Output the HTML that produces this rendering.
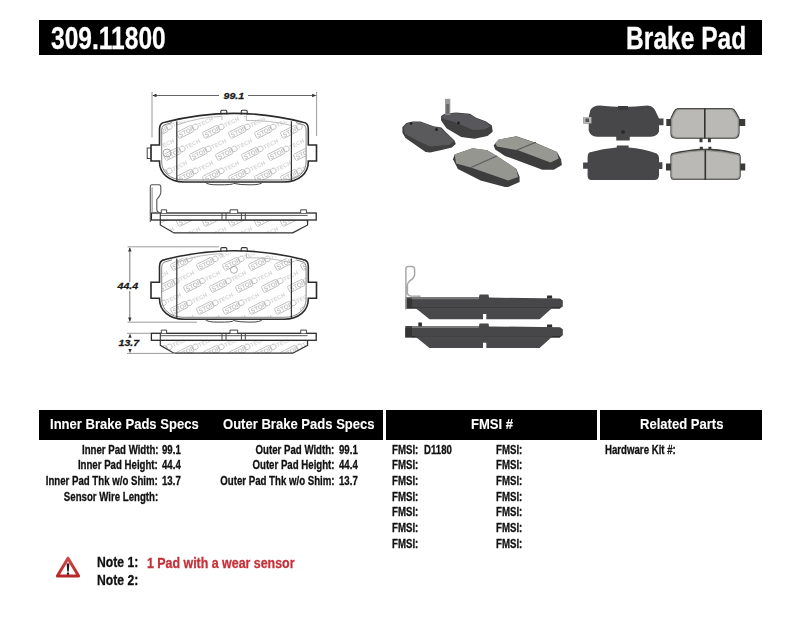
<!DOCTYPE html>
<html><head><meta charset="utf-8">
<style>
*{margin:0;padding:0;box-sizing:border-box}
html,body{width:800px;height:619px;background:#fff;overflow:hidden}
body{position:relative;font-family:"Liberation Sans",sans-serif;font-weight:bold;color:#111;-webkit-text-stroke-width:.3px}
.bar{position:absolute;background:#000}
.t{position:absolute;white-space:nowrap;line-height:1;transform-origin:0 0}
.r{position:absolute;white-space:nowrap;line-height:1;transform-origin:100% 0}
.c{position:absolute;white-space:nowrap;line-height:1;transform-origin:50% 0;text-align:center}
.w{color:#fff}
.hd{font-size:30.5px;transform:scaleX(.805)}
.th{font-size:15px;transform:scaleX(.87);-webkit-text-stroke-width:.1px}
.sp{font-size:12.3px;transform:scaleX(.785)}
.nt{font-size:14.5px;transform:scaleX(.84)}
svg{position:absolute;left:0;top:0;-webkit-text-stroke-width:0}
</style></head><body>
<div class="bar" style="left:39px;top:20px;width:723px;height:35px"></div>
<div class="t w hd" style="left:51.2px;top:22.9px">309.11800</div>
<div class="r w hd" style="right:53.9px;top:22.9px">Brake Pad</div>

<div class="bar" style="left:39px;top:410px;width:344px;height:30px"></div>
<div class="bar" style="left:386px;top:410px;width:211px;height:30px"></div>
<div class="bar" style="left:600px;top:410px;width:162px;height:30px"></div>
<div class="t w th" style="left:50px;top:416.2px">Inner Brake Pads Specs</div>
<div class="t w th" style="left:222.5px;top:416.2px">Outer Brake Pads Specs</div>
<div class="t w th" style="left:471px;top:416.2px">FMSI #</div>
<div class="t w th" style="left:640px;top:416.2px">Related Parts</div>

<div class="r sp" style="right:641.8px;top:443.7px">Inner Pad Width:</div>
<div class="r sp" style="right:641.8px;top:459.35px">Inner Pad Height:</div>
<div class="r sp" style="right:641.8px;top:475.0px">Inner Pad Thk w/o Shim:</div>
<div class="r sp" style="right:641.8px;top:490.65px">Sensor Wire Length:</div>
<div class="t sp" style="left:161.6px;top:443.7px">99.1</div>
<div class="t sp" style="left:161.6px;top:459.35px">44.4</div>
<div class="t sp" style="left:161.6px;top:475.0px">13.7</div>

<div class="r sp" style="right:465.8px;top:443.7px">Outer Pad Width:</div>
<div class="r sp" style="right:465.8px;top:459.35px">Outer Pad Height:</div>
<div class="r sp" style="right:465.8px;top:475.0px">Outer Pad Thk w/o Shim:</div>
<div class="t sp" style="left:338.6px;top:443.7px">99.1</div>
<div class="t sp" style="left:338.6px;top:459.35px">44.4</div>
<div class="t sp" style="left:338.6px;top:475.0px">13.7</div>

<div class="t sp" style="left:392px;top:443.7px">FMSI:</div>
<div class="t sp" style="left:424px;top:443.7px">D1180</div>
<div class="t sp" style="left:392px;top:459.35px">FMSI:</div>
<div class="t sp" style="left:392px;top:475.0px">FMSI:</div>
<div class="t sp" style="left:392px;top:490.65px">FMSI:</div>
<div class="t sp" style="left:392px;top:506.3px">FMSI:</div>
<div class="t sp" style="left:392px;top:521.95px">FMSI:</div>
<div class="t sp" style="left:392px;top:537.6px">FMSI:</div>
<div class="t sp" style="left:496.2px;top:443.7px">FMSI:</div>
<div class="t sp" style="left:496.2px;top:459.35px">FMSI:</div>
<div class="t sp" style="left:496.2px;top:475.0px">FMSI:</div>
<div class="t sp" style="left:496.2px;top:490.65px">FMSI:</div>
<div class="t sp" style="left:496.2px;top:506.3px">FMSI:</div>
<div class="t sp" style="left:496.2px;top:521.95px">FMSI:</div>
<div class="t sp" style="left:496.2px;top:537.6px">FMSI:</div>

<div class="t sp" style="left:605px;top:443.7px">Hardware Kit #:</div>

<div class="t nt" style="left:96.8px;top:554.9px">Note 1:</div>
<div class="t nt" style="left:96.8px;top:572.8px">Note 2:</div>
<div class="t nt" style="left:146.5px;top:555.5px;color:#c63038;transform:scaleX(.855)">1 Pad with a wear sensor</div>

<svg width="800" height="619" viewBox="0 0 800 619">
  <defs><linearGradient id="tg" x1="0" y1="0" x2="0" y2="1"><stop offset="0" stop-color="#f2b9b9"/><stop offset=".55" stop-color="#fff"/><stop offset="1" stop-color="#fff"/></linearGradient>
  <linearGradient id="ts" x1="0" y1="0" x2="0" y2="1"><stop offset="0" stop-color="#d04848"/><stop offset="1" stop-color="#b82828"/></linearGradient></defs>
  <path d="M68 558.2 L78.6 576 L57.4 576 Z" fill="url(#tg)" stroke="url(#ts)" stroke-width="3" stroke-linejoin="round"/>
  <path d="M66.7 563.5 L69.3 563.5 L68.8 571.5 L67.2 571.5 Z" fill="#1a1a1a"/>
  <rect x="66.9" y="572.4" width="2.2" height="2.4" rx=".6" fill="#1a1a1a"/>
</svg>
<svg width="800" height="619" viewBox="0 0 800 619" style="position:absolute;left:0;top:0">
<defs>
<pattern id="wm" patternUnits="userSpaceOnUse" width="26" height="44" x="-3" y="3">
 <g id="lg0"><g id="lg" fill="none" stroke="#bdbdbd" stroke-width=".85" transform="rotate(-26.6)">
  <rect x="-1.5" y="-3.4" width="17" height="6.8" rx="1.2"/>
  <text x="0" y="2.4" font-family="Liberation Sans" font-weight="bold" font-size="6.2" fill="#c6c6c6" stroke="none">STOP</text>
  <circle cx="18.3" cy="0" r="2.8"/>
  <text x="21.8" y="2.3" font-family="Liberation Sans" font-size="5.8" fill="#d4d4d4" stroke="none">TECH</text>
 </g></g>
<use href="#lg" x="-52" y="-44"/><use href="#lg" x="-39" y="-22"/><use href="#lg" x="-52" y="0"/><use href="#lg" x="-39" y="22"/><use href="#lg" x="-52" y="44"/><use href="#lg" x="-39" y="66"/><use href="#lg" x="-26" y="-44"/><use href="#lg" x="-13" y="-22"/><use href="#lg" x="-26" y="0"/><use href="#lg" x="-13" y="22"/><use href="#lg" x="-26" y="44"/><use href="#lg" x="-13" y="66"/><use href="#lg" x="0" y="-44"/><use href="#lg" x="13" y="-22"/><use href="#lg" x="13" y="22"/><use href="#lg" x="0" y="44"/><use href="#lg" x="13" y="66"/><use href="#lg" x="26" y="-44"/><use href="#lg" x="39" y="-22"/><use href="#lg" x="26" y="0"/><use href="#lg" x="39" y="22"/><use href="#lg" x="26" y="44"/><use href="#lg" x="39" y="66"/><use href="#lg" x="52" y="-44"/><use href="#lg" x="65" y="-22"/><use href="#lg" x="52" y="0"/><use href="#lg" x="65" y="22"/><use href="#lg" x="52" y="44"/><use href="#lg" x="65" y="66"/>
</pattern>
<pattern id="wm2" href="#wm" x="-9" y="3"/>
</defs>
<path d="M161.7 130.0 Q161.7 125.0 166.0 124.4 Q234.0 107.0 302.0 124.4 Q306.1 125.0 306.1 130.0 L306.1 162.0 C306.1 172.0 298.0 180.0 284.0 180.0 L184.0 180.0 C170.0 180.0 161.7 172.0 161.7 162.0 Z" fill="url(#wm)" stroke="none"/>
<path d="M159.5 129.0 Q159.5 123.0 165.0 122.3 Q234.0 104.5 303.0 122.3 Q308.3 123.0 308.3 129.0 L308.3 145.0 L316.5 145.0 L316.5 161.0 L308.3 161.0 L308.3 162.0 C308.3 173.0 299.0 182.0 284.0 182.0 L184.0 182.0 C169.0 182.0 159.5 173.0 159.5 162.0 L159.5 161.0 L151.0 161.0 L151.0 145.0 L159.5 145.0 Z" fill="none" stroke="#2a2a2a" stroke-width="1.6"/>
<path d="M172.0 122.6 L166.0 124.4 Q161.7 125.0 161.7 130.0 L161.7 162.0 C161.7 172.0 170.0 180.0 184.0 180.0 L284.0 180.0 C298.0 180.0 306.1 172.0 306.1 162.0 L306.1 130.0 Q306.1 125.0 302.0 124.4 L296.0 122.6" fill="none" stroke="#777" stroke-width="0.9"/>
<path d="M220.8 114.5 L220.8 111.5 Q220.8 110.3 222.0 110.3 L225.6 110.3 Q226.8 110.3 226.8 111.5 L226.8 114.5" fill="none" stroke="#333" stroke-width="1.1"/>
<path d="M241.2 114.5 L241.2 111.5 Q241.2 110.3 242.4 110.3 L246.0 110.3 Q247.2 110.3 247.2 111.5 L247.2 114.5" fill="none" stroke="#333" stroke-width="1.1"/>
<path d="M176.8 125.0 Q197.0 117.5 222.0 116.3 L222.0 120.0 M246.4 115.5 L246.4 120.5 Q270.0 120.0 291.4 125.5" fill="none" stroke="#b5b5b5" stroke-width=".9"/>
<path d="M205.0 182.0 Q207.0 185.0 218.0 184.8 Q233.0 185.0 233.5 183.3 Q240.0 185.0 250.0 184.8 Q261.0 185.0 262.5 182.0" fill="none" stroke="#444" stroke-width="1"/>
<path d="M176.8 121.3 L176.8 181.0 M291.4 121.3 L291.4 181.0" stroke="#333" stroke-width="1.2"/>
<rect x="147.2" y="148.0" width="3.8" height="10.5" fill="none" stroke="#444" stroke-width="1"/>
<circle cx="167" cy="153.0" r="4" fill="none" stroke="#aaa" stroke-width="1"/>
<path d="M160.3 220.0 L160.3 225.0 L174.0 232.9 L292.8 232.9 L307.6 225.0 L307.6 220.0 Z" fill="url(#wm)" stroke="#333" stroke-width="1.2"/>
<rect x="151.4" y="213.0" width="164.8" height="7" fill="#fff" stroke="#2a2a2a" stroke-width="1.3"/>
<path d="M160.3 215.4 L307.6 215.4" stroke="#555" stroke-width="1"/>
<path d="M160.3 213.0 L160.3 220.0" stroke="#333" stroke-width="1.1"/>
<path d="M222.0 213.0 L222.0 220.0" stroke="#444" stroke-width="1"/>
<path d="M226.0 213.0 L226.0 220.0" stroke="#444" stroke-width="1"/>
<path d="M241.4 213.0 L241.4 220.0" stroke="#444" stroke-width="1"/>
<path d="M245.3 213.0 L245.3 220.0" stroke="#444" stroke-width="1"/>
<path d="M161.3 213.0 L161.3 209.8 L166.6 209.8 L166.6 213.0" fill="#fff" stroke="#444" stroke-width="1"/>
<path d="M230.0 213.0 L230.0 209.8 L237.7 209.8 L237.7 213.0" fill="#fff" stroke="#444" stroke-width="1"/>
<path d="M300.7 213.0 L300.7 209.8 L306.4 209.8 L306.4 213.0" fill="#fff" stroke="#444" stroke-width="1"/>
<path d="M150.3 222.0 L150.3 186.5 Q150.3 184.7 152 184.7 L159 184.7 Q160.8 184.7 160.8 187.0 L160.8 192.5 Q160.8 195.0 156.8 199.5 L156.8 209.0 Q156.8 212.0 159 212.5" fill="none" stroke="#555" stroke-width="1.1"/>
<path d="M152.1 213.0 L152.1 187.5" fill="none" stroke="#777" stroke-width=".9"/>
<path d="M161.7 267.3 Q161.7 262.3 166.0 261.7 Q234.0 244.3 302.0 261.7 Q306.1 262.3 306.1 267.3 L306.1 299.3 C306.1 309.3 298.0 317.3 284.0 317.3 L184.0 317.3 C170.0 317.3 161.7 309.3 161.7 299.3 Z" fill="url(#wm2)" stroke="none"/>
<path d="M159.5 266.3 Q159.5 260.3 165.0 259.6 Q234.0 241.8 303.0 259.6 Q308.3 260.3 308.3 266.3 L308.3 282.3 L316.5 282.3 L316.5 298.3 L308.3 298.3 L308.3 299.3 C308.3 310.3 299.0 319.3 284.0 319.3 L184.0 319.3 C169.0 319.3 159.5 310.3 159.5 299.3 L159.5 298.3 L151.0 298.3 L151.0 282.3 L159.5 282.3 Z" fill="none" stroke="#2a2a2a" stroke-width="1.6"/>
<path d="M172.0 259.9 L166.0 261.7 Q161.7 262.3 161.7 267.3 L161.7 299.3 C161.7 309.3 170.0 317.3 184.0 317.3 L284.0 317.3 C298.0 317.3 306.1 309.3 306.1 299.3 L306.1 267.3 Q306.1 262.3 302.0 261.7 L296.0 259.9" fill="none" stroke="#777" stroke-width="0.9"/>
<path d="M220.8 251.8 L220.8 248.8 Q220.8 247.6 222.0 247.6 L225.6 247.6 Q226.8 247.6 226.8 248.8 L226.8 251.8" fill="none" stroke="#333" stroke-width="1.1"/>
<path d="M241.2 251.8 L241.2 248.8 Q241.2 247.6 242.4 247.6 L246.0 247.6 Q247.2 247.6 247.2 248.8 L247.2 251.8" fill="none" stroke="#333" stroke-width="1.1"/>
<path d="M176.8 262.3 Q197.0 254.8 222.0 253.6 L222.0 257.3 M246.4 252.8 L246.4 257.8 Q270.0 257.3 291.4 262.8" fill="none" stroke="#b5b5b5" stroke-width=".9"/>
<path d="M205.0 319.3 Q207.0 322.3 218.0 322.1 Q233.0 322.3 233.5 320.6 Q240.0 322.3 250.0 322.1 Q261.0 322.3 262.5 319.3" fill="none" stroke="#444" stroke-width="1"/>
<path d="M176.8 258.6 L176.8 318.3 M291.4 258.6 L291.4 318.3" stroke="#333" stroke-width="1.2"/>
<circle cx="233.9" cy="269.8" r="3.5" fill="none" stroke="#aaa" stroke-width="1"/>
<path d="M160.3 340.3 L160.3 345.3 L174.0 353.2 L292.8 353.2 L307.6 345.3 L307.6 340.3 Z" fill="url(#wm)" stroke="#333" stroke-width="1.2"/>
<rect x="151.4" y="333.3" width="164.8" height="7" fill="#fff" stroke="#2a2a2a" stroke-width="1.3"/>
<path d="M160.3 335.7 L307.6 335.7" stroke="#555" stroke-width="1"/>
<path d="M160.3 333.3 L160.3 340.3" stroke="#333" stroke-width="1.1"/>
<path d="M222.0 333.3 L222.0 340.3" stroke="#444" stroke-width="1"/>
<path d="M226.0 333.3 L226.0 340.3" stroke="#444" stroke-width="1"/>
<path d="M241.4 333.3 L241.4 340.3" stroke="#444" stroke-width="1"/>
<path d="M245.3 333.3 L245.3 340.3" stroke="#444" stroke-width="1"/>
<path d="M161.3 333.3 L161.3 330.1 L166.6 330.1 L166.6 333.3" fill="#fff" stroke="#444" stroke-width="1"/>
<path d="M230.0 333.3 L230.0 330.1 L237.7 330.1 L237.7 333.3" fill="#fff" stroke="#444" stroke-width="1"/>
<path d="M300.7 333.3 L300.7 330.1 L306.4 330.1 L306.4 333.3" fill="#fff" stroke="#444" stroke-width="1"/>
<path d="M152 92 L152 137.5 M316.6 92 L316.6 136" stroke="#9a9a9a" stroke-width="1"/>
<path d="M153 95.5 L219 95.5 M248 95.5 L315.6 95.5" stroke="#666" stroke-width="1"/>
<path d="M152.3 95.5 L156.5 93.8 L156.5 97.2 Z" fill="#333"/>
<path d="M316.3 95.5 L312.1 93.8 L312.1 97.2 Z" fill="#333"/>
<path d="M127.5 246.8 L219 246.8 M127.5 322.2 L197 322.2" stroke="#9a9a9a" stroke-width="1"/>
<path d="M129.8 248 L129.8 282 M129.8 291 L129.8 321" stroke="#777" stroke-width="1"/>
<path d="M129.8 247.2 L128.1 251.4 L131.5 251.4 Z" fill="#333"/>
<path d="M129.8 321.8 L128.1 317.6 L131.5 317.6 Z" fill="#333"/>
<path d="M127 333.3 L151 333.3 M127 353.4 L175 353.4" stroke="#9a9a9a" stroke-width="1"/>
<path d="M130.0 333.6 L128.3 337.8 L131.7 337.8 Z" fill="#333"/>
<path d="M130.0 353.1 L128.3 348.9 L131.7 348.9 Z" fill="#333"/>
<text x="223.5" y="98.8" font-family="Liberation Sans" font-weight="bold" font-style="italic" font-size="9.2" fill="#1a1a1a" stroke="#1a1a1a" stroke-width=".25" transform="translate(223.5 0) scale(1.16 1) translate(-223.5 0)">99.1</text>
<text x="117.5" y="288.9" font-family="Liberation Sans" font-weight="bold" font-style="italic" font-size="9.2" fill="#1a1a1a" stroke="#1a1a1a" stroke-width=".25" transform="translate(117.5 0) scale(1.16 1) translate(-117.5 0)">44.4</text>
<text x="118.5" y="346.2" font-family="Liberation Sans" font-weight="bold" font-style="italic" font-size="9.2" fill="#1a1a1a" stroke="#1a1a1a" stroke-width=".25" transform="translate(118.5 0) scale(1.16 1) translate(-118.5 0)">13.7</text>
</svg>
<svg width="800" height="619" viewBox="0 0 800 619" style="position:absolute;left:0;top:0">
<defs><filter id="bl" x="-5%" y="-5%" width="110%" height="110%"><feGaussianBlur stdDeviation="0.45"/></filter></defs>
<g filter="url(#bl)">
<path d="M402.4 127.1 L406.4 123.1 L412.5 121.4 L420.4 121.4 L433.5 126.2 L441.4 127.5 L445.7 131.9 L454.5 140.6 L455.8 144.1 L451.9 147.6 L440.5 150.2 L430.0 152.4 L425.6 152.0 L405.5 138.0 L402.4 132.7 Z" fill="#3f3f41" />
<path d="M403.5 127.0 L407.0 123.6 L412.5 122.0 L420.4 122.0 L433.5 126.8 L441.0 128.2 L445.0 132.3 L454.0 140.8 L449.0 145.0 L430.0 146.5 L418.0 141.0 L405.0 134.0 Z" fill="#5a5a5c" />
<circle cx="411" cy="123.5" r="1.3" fill="#1e1e1e"/><circle cx="436.5" cy="129.5" r="1.5" fill="#222"/>
<path d="M441.1 116.0 L444.6 113.8 L456.0 112.5 L470.0 113.8 L476.1 117.7 L485.7 121.2 L491.9 125.6 L492.7 131.7 L487.5 136.1 L474.4 138.7 L461.2 137.0 L446.4 128.2 L441.1 120.4 Z" fill="#3f3f41" />
<path d="M442.0 116.5 L445.0 114.4 L456.0 113.2 L470.0 114.4 L476.0 118.3 L485.5 122.0 L490.5 126.3 L484.0 129.5 L473.0 130.0 L461.0 124.8 L452.5 121.3 L443.5 119.0 Z" fill="#59595b" />
<circle cx="458.5" cy="123" r="1.4" fill="#222"/>
<rect x="445" y="98.8" width="5.3" height="16" fill="#9a9a9a"/><rect x="446.2" y="104" width="3" height="10" fill="#6a6a6a"/>
<path d="M453.0 159.2 L454.6 154.4 L472.5 148.2 L487.1 150.3 L496.9 156.0 L516.4 169.0 L519.6 177.1 L519.6 182.0 L508.2 186.9 L505.0 186.9 L480.6 180.4 L457.9 169.0 Z" fill="#3e3e3e" />
<path d="M454.6 154.4 L472.5 148.2 L487.1 150.3 L496.9 156.0 L516.4 169.0 L518.0 177.1 L508.2 180.4 L470.9 167.4 L456.2 163.5 Z" fill="#969690" />
<path d="M470.9 167.4 L496.9 156" stroke="#5a5a5a" stroke-width="1.1"/>
<path d="M493.6 145.4 L498.5 139.8 L516.4 136.2 L534.2 142.2 L557.0 152.0 L561.0 159.2 L561.9 165.0 L553.8 169.8 L542.4 169.8 L505.0 156.0 L495.2 149.5 Z" fill="#3e3e3e" />
<path d="M495.2 143.0 L498.5 139.5 L516.4 136.5 L534.2 142.5 L557.0 152.0 L558.6 158.4 L550.5 162.5 L518.0 150.3 L497.0 146.5 Z" fill="#989892" />
<path d="M516.4 150.3 L535.9 142.2" stroke="#5a5a5a" stroke-width="1.1"/>
<path d="M599.4 105.6 Q623 108.5 647.75 105.6 Q652.5 106 655 110 L659 118.6 L663.5 118.6 L663.5 125.3 L659 125.3 L659 131.5 Q657 136.5 651 136.8 L629.75 136.8 L629.75 140.5 L616.25 140.5 L616.25 136.8 L597.1 136.8 Q590 136 588.7 130.4 L588.7 123.6 L583.4 123.6 L583.4 116.9 L588.7 116.9 L590.4 110.1 Q593 105.8 599.4 105.6 Z" fill="#464648"/>
<rect x="583.4" y="117" width="8" height="6.5" fill="#b8b8b8"/><rect x="585.5" y="118.5" width="3.5" height="3.5" fill="#555"/>
<circle cx="623" cy="132" r="2" fill="#2a2a2a"/><rect x="618" y="106" width="10" height="4" fill="#3a3a3a"/>
<path d="M589.25 152.4 Q603 148.5 616.8 147.5 L616.8 145.6 L628.6 145.6 L628.6 147.5 Q643 148.5 656.75 153.5 Q659 155 659 158 L659 162.3 L662.4 162.3 L662.4 169 L659 169 L659 175.5 Q658.5 180 654.5 180 L591.5 180 Q587.6 180 587.6 175.5 L587.6 168.7 L583.1 168.7 L583.1 162.5 L587.6 162.5 L587.6 157 Q587.6 153.5 589.25 152.4 Z" fill="#464648"/>
<path d="M678 107.9 L731.5 107.9 Q734.5 108.3 736 111.5 L739.6 118 L739.6 119.1 L745.25 119.1 L745.25 125.9 L739.6 125.9 L739.6 133 Q739.3 138.8 734 138.8 L710.9 138.8 L710.9 142.3 L707.9 142.3 L707.9 138.8 L702.5 138.8 L702.5 142.3 L699.5 142.3 L699.5 138.8 L676 138.8 Q670.4 138.5 670.4 133.75 L670.4 125.9 L666.3 125.9 L666.3 119.1 L670.4 119.1 L670.4 118 L673.5 111.5 Q675 108.3 678 107.9 Z" fill="#3a3a3a"/>
<path d="M678.5 109.3 L731 109.3 Q733.3 109.7 734.6 112.2 L738.3 119 L738.3 132.8 Q738 137.5 733.5 137.5 L676.5 137.5 Q671.7 137.3 671.7 133 L671.7 119 L675 112.2 Q676.2 109.5 678.5 109.3 Z" fill="#bab9b5" stroke="#8f8e8a" stroke-width="1.2"/>
<rect x="704" y="108.5" width="1.6" height="30" fill="#333"/>
<path d="M672.1 152.9 Q688 149.5 699.8 148.8 L699.8 146.8 L702.8 146.8 L702.8 148.7 L708.4 148.7 L708.4 146.8 L711.4 146.8 L711.4 148.8 Q725 149.5 739.6 153.5 Q740.75 155 740.75 157 L740.75 163.6 L745.25 163.6 L745.25 170.4 L740.75 170.4 L740.75 176 Q740.5 180 736 180 L674.4 180 Q670.4 180 670.4 176 L670.4 170.4 L666 170.4 L666 163.6 L670.4 163.6 L670.4 156 Q670.6 153.5 672.1 152.9 Z" fill="#3a3a3a"/>
<path d="M673.5 154.3 Q689 150.9 705 150.3 Q722 150.9 738.3 154.8 Q739.6 155.8 739.6 158 L739.6 175.8 Q739.3 178.8 735.5 178.8 L675 178.8 Q671.6 178.8 671.6 175.5 L671.6 157 Q671.8 154.8 673.5 154.3 Z" fill="#bab9b5" stroke="#8f8e8a" stroke-width="1.2"/>
<rect x="704.5" y="150" width="1.6" height="30" fill="#333"/>
<path d="M405.3 297.2 L479.0 297.2 L479.5 294.6 L488.5 294.6 L489.0 297.6 L560.0 298.5 L562.8 300.5 L562.8 306.5 L560.0 308.6 L405.3 308.6 Z" fill="#464648" />
<path d="M412.0 297.3 L479.0 297.3 L479.0 299.2 L412.0 299.2 Z" fill="#7a7a7a" />
<path d="M412.0 307.2 L560.0 307.2 L560.0 308.6 L412.0 308.6 Z" fill="#2e2e2e" />
<path d="M414.9 307.5 L552.7 307.5 L539.6 319.3 L486.3 319.3 L486.3 314.0 L483.0 314.0 L483.0 319.3 L429.5 319.3 Z" fill="#49494b" />
<path d="M546.9 298.5 L547.2 295.6 L552.0 295.6 L552.3 298.5 Z" fill="#2e2e2e" />
<path d="M405.3 299.0 L412.0 299.0 L412.0 308.6 L405.3 308.6 Z" fill="#363636" />
<path d="M405.3 326.0 L479.0 326.0 L479.5 323.4 L488.5 323.4 L489.0 326.4 L560.0 327.3 L562.8 329.3 L562.8 335.3 L560.0 337.4 L405.3 337.4 Z" fill="#464648" />
<path d="M412.0 326.1 L479.0 326.1 L479.0 328.0 L412.0 328.0 Z" fill="#7a7a7a" />
<path d="M412.0 336.0 L560.0 336.0 L560.0 337.4 L412.0 337.4 Z" fill="#2e2e2e" />
<path d="M414.9 336.3 L552.7 336.3 L539.6 348.1 L486.3 348.1 L486.3 342.8 L483.0 342.8 L483.0 348.1 L429.5 348.1 Z" fill="#49494b" />
<path d="M546.9 327.3 L547.2 324.4 L552.0 324.4 L552.3 327.3 Z" fill="#2e2e2e" />
<path d="M418.3 326.4 L418.3 322.5 L421.9 322.5 L421.9 326.4 Z" fill="#2e2e2e" />
<path d="M405.3 327.8 L412.0 327.8 L412.0 337.4 L405.3 337.4 Z" fill="#363636" />
<path d="M405.9 309.5 L405.9 268.5 Q406 266.5 408.5 266.5 L412.5 266.5 Q414.6 266.8 414.6 270 L414.6 275 Q414 278.5 409.5 281 Q407.4 283 407.4 286 L407.4 293 Q407.6 295.5 410.5 296 L420.5 296.3" fill="none" stroke="#a8a8a8" stroke-width="1.5"/>
</g></svg>
</body></html>
